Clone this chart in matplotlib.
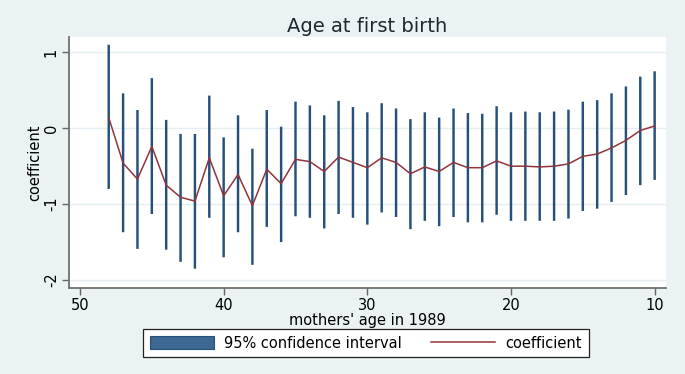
import matplotlib
matplotlib.use('Agg')
import matplotlib.pyplot as plt

plt.rcParams['font.family'] = ['DejaVu Sans']

# data (mothers' age in 1989, 48 down to 10)
age = list(range(48, 9, -1))
coef = [0.14, -0.46, -0.67, -0.24, -0.75, -0.91, -0.96, -0.39, -0.89, -0.61,
        -1.02, -0.54, -0.73, -0.41, -0.44, -0.57, -0.38, -0.45, -0.52, -0.39,
        -0.45, -0.60, -0.51, -0.57, -0.45, -0.52, -0.52, -0.43, -0.50, -0.50,
        -0.51, -0.50, -0.47, -0.37, -0.34, -0.26, -0.16, -0.03, 0.03]
ci_hi = [1.10, 0.46, 0.24, 0.66, 0.11, -0.075, -0.075, 0.43, -0.12, 0.17,
         -0.27, 0.24, 0.02, 0.35, 0.30, 0.17, 0.36, 0.28, 0.21, 0.33,
         0.26, 0.12, 0.21, 0.14, 0.26, 0.20, 0.19, 0.29, 0.21, 0.22,
         0.21, 0.22, 0.245, 0.35, 0.37, 0.46, 0.55, 0.68, 0.75]
ci_lo = [-0.80, -1.37, -1.59, -1.13, -1.60, -1.76, -1.85, -1.18, -1.70, -1.37,
         -1.80, -1.30, -1.50, -1.16, -1.18, -1.32, -1.13, -1.18, -1.27, -1.11,
         -1.17, -1.33, -1.22, -1.29, -1.17, -1.24, -1.24, -1.14, -1.22, -1.22,
         -1.22, -1.22, -1.19, -1.09, -1.06, -0.97, -0.88, -0.75, -0.68]
yticks = [-2, -1, 0, 1]
xticks = [50, 40, 30, 20, 10]

bg = '#EAF2F3'
navy = '#24507A'
navy_fill = '#3C6891'
maroon = '#90353B'

W, H = 685, 374
fig = plt.figure(figsize=(W / 100, H / 100), dpi=100, facecolor=bg)
ax = fig.add_axes([68.5 / W, 1 - 288.3 / H, (666 - 68.5) / W, (288.3 - 36.7) / H])
ax.set_facecolor('white')

heights = [h - l for h, l in zip(ci_hi, ci_lo)]
bars = ax.bar(age, heights, bottom=ci_lo, width=0.17, color=navy, linewidth=0,
              label='95% confidence interval', zorder=2)
for b in bars:
    b.set_snap(False)
line, = ax.plot(age, coef, color=maroon, linewidth=1.1, label='coefficient', zorder=3)

ax.set_xlim(50.8, 9.21)
ax.set_ylim(-2.109, 1.206)
ax.set_xticks(xticks)
ax.set_yticks(yticks)
ax.set_yticklabels([str(t) for t in yticks], rotation=90, va='center')
ax.grid(axis='y', color='#E4EEF2', linewidth=1.0, zorder=0)
ax.tick_params(labelsize=10.5, color='#666666', length=5, width=1.0, pad=2)

for s in ['top', 'right']:
    ax.spines[s].set_visible(False)
for s in ['left', 'bottom']:
    ax.spines[s].set_color('#707070')
    ax.spines[s].set_linewidth(1.3)

ax.set_xlabel("mothers' age in 1989", fontsize=10.5, labelpad=0)
ax.set_ylabel('coefficient', fontsize=10.5, labelpad=1)

fig.text((68.5 + 666) / 2 / W, 1 - 32 / H, 'Age at first birth', fontsize=14,
         ha='center', va='baseline', color='#1E2830')

leg = fig.legend([bars, line], ['95% confidence interval', 'coefficient'],
                 loc='center', bbox_to_anchor=(366 / W, 1 - 343 / H), ncol=2,
                 fontsize=10.5, frameon=True, fancybox=False, handlelength=4.4,
                 handletextpad=0.7, columnspacing=2.0, borderpad=0.45,
                 handleheight=0.9, borderaxespad=0)
leg.get_frame().set_edgecolor('#222222')
leg.get_frame().set_linewidth(0.9)
leg.get_frame().set_facecolor('white')
leg.get_frame().set_alpha(1)
patch = leg.legend_handles[0]
patch.set_facecolor(navy_fill)
patch.set_edgecolor(navy)
patch.set_linewidth(0.8)

fig.savefig('out.png', dpi=100, facecolor=bg)
